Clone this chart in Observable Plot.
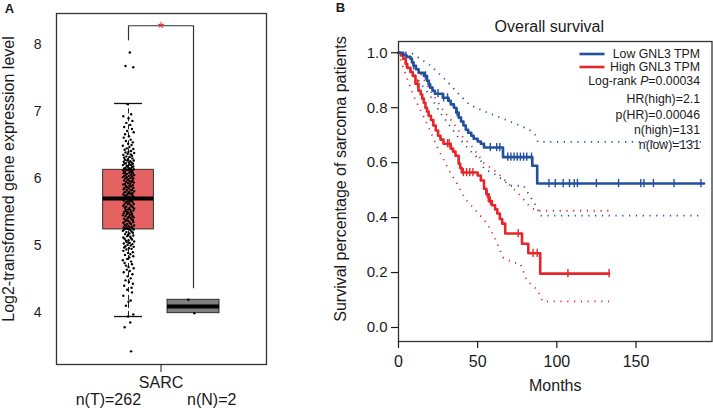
<!DOCTYPE html>
<html><head><meta charset="utf-8">
<script src="https://cdn.jsdelivr.net/npm/d3@7"></script>
<script src="https://cdn.jsdelivr.net/npm/@observablehq/plot@0.6"></script>
<style>
body{margin:0;background:#fff;}
#chart{position:relative;width:713px;height:408px;overflow:hidden;font-family:"Liberation Sans",Arial,sans-serif;background:#fff;}
#chart svg{position:absolute;top:0;}
</style></head><body><div id="chart"></div>
<script>
// ---------- Panel A data ----------
const groupsA = ["Tumor", "Normal"];
const boxLo  = [3.94, 3.99];
const boxQ1  = [5.24, 3.99];
const boxMed = [5.70, 4.09];
const boxQ3  = [6.13, 4.19];
const boxHi  = [7.12, 4.19];
const tumorVals = [
7.88,7.68,7.66,7.11,6.96,6.93,6.90,6.86,6.83,6.80,6.77,6.74,6.71,6.69,6.66,6.63,6.61,6.58,6.56,6.54,6.52,6.50,6.49,6.47,6.45,6.44,6.43,6.41,6.40,6.39,6.38,6.37,6.36,6.35,6.34,6.33,6.32,6.31,6.30,6.29,6.28,6.27,6.27,6.26,6.25,6.24,6.24,6.23,6.22,6.22,6.21,6.20,6.20,6.19,6.18,6.18,6.17,6.16,6.16,6.15,6.15,6.14,6.14,6.13,6.13,
6.12,6.12,6.11,6.10,6.10,6.09,6.08,6.08,6.07,6.06,6.06,6.05,6.04,6.04,6.03,6.02,6.02,6.01,6.00,6.00,5.99,5.98,5.97,5.97,5.96,5.95,5.95,5.94,5.93,5.92,5.92,5.91,5.90,5.89,5.89,5.88,5.87,5.86,5.86,5.85,5.84,5.83,5.83,5.82,5.81,5.80,5.80,5.79,5.78,5.78,5.77,5.76,5.76,5.75,5.74,5.74,5.73,5.72,5.72,5.71,5.71,5.70,5.70,5.70,5.69,5.69,
5.68,5.67,5.67,5.66,5.65,5.65,5.64,5.63,5.62,5.62,5.61,5.60,5.59,5.59,5.58,5.57,5.56,5.56,5.55,5.54,5.53,5.53,5.52,5.51,5.50,5.50,5.49,5.48,5.47,5.47,5.46,5.45,5.44,5.44,5.43,5.42,5.41,5.41,5.40,5.39,5.38,5.38,5.37,5.36,5.35,5.35,5.34,5.33,5.32,5.32,5.31,5.30,5.29,5.29,5.28,5.27,5.27,5.26,5.26,5.25,5.25,5.24,5.24,5.24,5.23,
5.22,5.21,5.20,5.19,5.18,5.17,5.16,5.15,5.14,5.13,5.12,5.11,5.10,5.09,5.08,5.07,5.06,5.05,5.04,5.03,5.02,5.01,5.00,4.99,4.98,4.97,4.96,4.95,4.94,4.92,4.90,4.89,4.87,4.86,4.84,4.82,4.80,4.78,4.76,4.74,4.72,4.70,4.68,4.66,4.64,4.62,4.60,4.57,4.54,4.51,4.48,4.46,4.43,4.40,4.37,4.34,4.30,4.25,4.18,4.16,4.10,3.97,3.94,3.85,3.78,3.42];
// horizontal jitter (units of 1/150 of a category step)
const tumorJitter = [
3,-7,11,-2,6,-12,0,9,-5,4,-10,8,-3,12,-8,1,-11,5,-6,10,-1,7,-13,2,-4,11,-9,6,0,-7,
13,-2,5,-12,8,-5,3,-10,9,-1,-8,12,-3,4,-11,7,1,-6,10,-9,2,-13,6,-4,11,-2,8,-7,0,5,
-10,3,12,-5,-1,9,-12,4,-8,7,2,-11,10,-3,6,-6,13,-9,1,8,-4,-13,5,11,-7,0,-2,9,-10,3,
7,-5,12,-1,-8,4,-12,10,2,-6,6,-3,11,-9,1,-11,8,-4,5,13,-7,0,-10,9,3,-2,-12,7,-5,10,
-8,2,12,-1,-6,4,-13,11,-3,6,-9,0,8,-11,3,-4,9,-7,1,12,-2,-10,5,7,-12,-5,10,2,-8,13,
-1,4,-6,11,-9,-3,6,0,-11,8,-4,3,-13,9,-7,1,12,-2,5,-10,7,-5,10,-1,-8,2,11,-12,4,-3,
6,-9,13,0,-6,8,-11,3,-4,9,-2,-7,12,1,-10,5,-13,7,-5,10,2,-8,-1,11,-3,4,-12,6,-9,8,
0,-6,13,-4,3,-11,9,-2,5,-7,12,-10,1,7,-5,-12,10,-1,4,-8,11,2,-3,-13,6,-9,8,-6,0,12,
-4,3,-11,9,-2,5,-7,1,10,-10,7,-3,8,-12,5,0,-6,11,-1,4,-9,6];
const normalVals = [4.19, 3.99];
const normalJitter = [-12, 2];
const bracketY = [8.07, 8.28, 4.37];
const yTicksA = [4, 5, 6, 7, 8];
const xCatLabel = "SARC";
const countLabels = ["n(T)=262", "n(N)=2"];
const yLabelA = "Log2-transformed gene expression level";

// ---------- Panel B data ----------
const lowTime = [0,3,5,7.6,8.5,9.5,11,12.7,16,18,19,20,21.5,23,28,31.6,33,35,36.5,38,39.5,41,42.5,44,46,47.5,50,52,54,66,84.5,87.6,193];
const lowSurv = [1,0.992,0.985,0.978,0.965,0.953,0.94,0.927,0.916,0.898,0.885,0.873,0.862,0.851,0.836,0.825,0.812,0.80,0.782,0.764,0.75,0.735,0.72,0.709,0.698,0.687,0.677,0.669,0.655,0.62,0.589,0.524,0.524];
const lowCensor = [9.5,17,19.5,25,28.5,31,37,58,62,64,69,71,73,75,77,79,81,84,95,99,104,108,111,113,125,139,153,155,161,174,191];
const highTime = [0,1.5,3,4.5,5.5,7.5,9,10.7,12.6,14,15,16,17,18,19,20.5,22,23.5,25,26.5,28.4,33,34.5,36,38,39,40,50,52,54,55.5,57,59,61,62.4,64,65.5,67.4,78,82,89.5,133];
const highSurv = [1,0.99,0.978,0.96,0.945,0.93,0.916,0.887,0.862,0.848,0.833,0.818,0.80,0.786,0.771,0.755,0.735,0.717,0.698,0.684,0.669,0.651,0.64,0.625,0.596,0.58,0.564,0.553,0.535,0.505,0.485,0.46,0.445,0.43,0.415,0.395,0.378,0.342,0.305,0.27,0.196,0.196];
const highCensor = [5,12,31,32,41,43,45,47,56,58,75.6,85,87.6,107,133];
const lowUpT  = [0,8,20,30,38,45,55,66,77,83.6,86.5,88,193];
const lowUpS  = [1,1,0.955,0.90,0.85,0.81,0.785,0.76,0.735,0.716,0.70,0.676,0.676];
const lowLoT  = [0,3,9.5,20,26.5,37,45,52,54,62.4,70.6,79,83.5,87.6,89.5,193];
const lowLoS  = [1,0.98,0.924,0.843,0.78,0.698,0.644,0.607,0.578,0.553,0.516,0.516,0.473,0.436,0.407,0.407];
const highUpT = [0,5.6,14,20,28.4,35,41,47,53.6,62.4,68.7,77,83.5,88,133];
const highUpS = [1,1,0.924,0.862,0.79,0.742,0.69,0.655,0.60,0.564,0.527,0.48,0.436,0.425,0.425];
const highLoT = [0,3,9.5,18,24.6,33,37,42,50,56,61,66,72.5,77,81,88,91,133];
const highLoS = [1,0.945,0.843,0.742,0.655,0.56,0.524,0.469,0.418,0.378,0.324,0.255,0.236,0.232,0.171,0.135,0.095,0.095];
const xTicksB = [0, 50, 100, 150];
const yTicksB = [0, 0.2, 0.4, 0.6, 0.8, 1.0];
const seriesNames = ["Low GNL3 TPM", "High GNL3 TPM"];
const statLines = ["Log-rank P=0.00034", "HR(high)=2.1", "p(HR)=0.00046", "n(high)=131", "n(low)=131"];

// ---------- helpers ----------
const FONT = '"Liberation Sans", Arial, sans-serif';
const BLUE = "#23509e", RED = "#e5272a";
const groupX = {Tumor: 1, Normal: 2};
const halfW = {Tumor: 0.39, Normal: 0.40};
const fillA = {Tumor: "#e46262", Normal: "#7f7f7f"};
const zip = (t, s) => t.map((v, i) => ({t: v, s: s[i]}));
const stepAt = (T, S, t) => { let k = 0; for (let i = 0; i < T.length; i++) if (T[i] <= t) k = i; return S[k]; };

const boxes = groupsA.map((g, i) => ({g, x: groupX[g], lo: boxLo[i], q1: boxQ1[i], med: boxMed[i], q3: boxQ3[i], hi: boxHi[i]}));
const pts = tumorVals.map((v, i) => ({x: groupX.Tumor + tumorJitter[i] / 150, v}))
  .concat(normalVals.map((v, i) => ({x: groupX.Normal + normalJitter[i] / 150, v})));
const bracket = [
  {x: groupX.Tumor, y: bracketY[0]}, {x: groupX.Tumor, y: bracketY[1]},
  {x: groupX.Normal, y: bracketY[1]}, {x: groupX.Normal, y: bracketY[2]}];
const mid = (groupX.Tumor + groupX.Normal) / 2;
const T = {textAnchor: "middle", lineAnchor: "middle"};

const plotA = Plot.plot({
  width: 290, height: 408,
  marginLeft: 56, marginRight: 24, marginTop: 13, marginBottom: 44,
  x: {domain: [-0.108, 3.123], axis: null},
  y: {domain: [3.224, 8.463], axis: null},
  style: {fontFamily: FONT, color: "#1a1a1a", background: "transparent"},
  marks: [
    Plot.rect(boxes, {x1: d => d.x - halfW[d.g], x2: d => d.x + halfW[d.g], y1: "q1", y2: "q3", fill: d => fillA[d.g], stroke: "#222", strokeWidth: 0.9}),
    Plot.ruleX(boxes.filter(d => d.hi > d.q3), {x: "x", y1: "q3", y2: "hi", stroke: "#222", strokeDasharray: "5,3"}),
    Plot.ruleX(boxes.filter(d => d.lo < d.q1), {x: "x", y1: "lo", y2: "q1", stroke: "#222", strokeDasharray: "5,3"}),
    Plot.ruleY(boxes.filter(d => d.hi > d.q3), {y: "hi", x1: d => d.x - 0.215, x2: d => d.x + 0.215, stroke: "#111", strokeWidth: 1.3}),
    Plot.ruleY(boxes.filter(d => d.lo < d.q1), {y: "lo", x1: d => d.x - 0.215, x2: d => d.x + 0.215, stroke: "#111", strokeWidth: 1.3}),
    Plot.ruleY(boxes, {y: "med", x1: d => d.x - halfW[d.g], x2: d => d.x + halfW[d.g], stroke: "#000", strokeWidth: 4}),
    Plot.dot(pts, {x: "x", y: "v", r: 1.2, fill: "#000", stroke: null}),
    Plot.line(bracket, {x: "x", y: "y", stroke: "#333", strokeWidth: 1.2}),
    Plot.text(["*"], {x: mid, y: bracketY[1], fill: "#e0302e", fontSize: 17, dy: 3}),
    Plot.frame({stroke: "#333", strokeWidth: 1.3}),
    Plot.axisY({ticks: yTicksA, tickFormat: d => String(d), tickSize: 0, tickPadding: 15, fontSize: 14, label: null}),
    Plot.axisX({ticks: [mid], tickFormat: () => xCatLabel, tickSize: 8, tickPadding: 4, fontSize: 16, label: null}),
    Plot.axisX({ticks: [0.69, 2.28], tickFormat: (d, i) => countLabels[i], tickSize: 0, tickPadding: 29, fontSize: 16, label: null}),
    Plot.text([yLabelA], {frameAnchor: "left", rotate: -90, dx: -48, dy: -10, fontSize: 16, ...T}),
    Plot.text(["A"], {frameAnchor: "top-left", dx: -47, dy: -4.5, fontSize: 13, fontWeight: "bold", ...T})
  ]
});

// ---------- Panel B ----------
const dotted = {strokeWidth: 1.8, strokeDasharray: "1.2,5.6", strokeLinecap: "butt"};
const censor = (T_, S, C) => C.map(t => ({t, s: stepAt(T_, S, t)}));
const stat = (s, dy) => Plot.text([s], {frameAnchor: "top-right", textAnchor: "end", lineAnchor: "middle", dx: -12, dy, fontSize: 12.3});
const plotB = Plot.plot({
  width: 423, height: 408,
  marginLeft: 108, marginRight: 1.5, marginTop: 41, marginBottom: 67,
  x: {domain: [0, 198], axis: null},
  y: {domain: [-0.051, 1.041], axis: null},
  style: {fontFamily: FONT, color: "#1a1a1a", background: "transparent"},
  marks: [
    Plot.line(zip(lowUpT, lowUpS), {x: "t", y: "s", stroke: BLUE, ...dotted}),
    Plot.line(zip(lowLoT, lowLoS), {x: "t", y: "s", stroke: BLUE, ...dotted}),
    Plot.line(zip(highUpT, highUpS), {x: "t", y: "s", stroke: RED, ...dotted}),
    Plot.line(zip(highLoT, highLoS), {x: "t", y: "s", stroke: RED, ...dotted}),
    Plot.line(zip(highTime, highSurv), {x: "t", y: "s", stroke: RED, strokeWidth: 2.6, curve: "step-after"}),
    Plot.line(zip(lowTime, lowSurv), {x: "t", y: "s", stroke: BLUE, strokeWidth: 2.6, curve: "step-after"}),
    Plot.ruleX(censor(highTime, highSurv, highCensor), {x: "t", y1: d => d.s - 0.015, y2: d => d.s + 0.015, stroke: RED, strokeWidth: 1.4}),
    Plot.ruleX(censor(lowTime, lowSurv, lowCensor), {x: "t", y1: d => d.s - 0.015, y2: d => d.s + 0.015, stroke: BLUE, strokeWidth: 1.4}),
    Plot.frame({stroke: "#333", strokeWidth: 1.3}),
    Plot.axisY({ticks: yTicksB, tickFormat: d3.format(".1f"), tickSize: 7, tickPadding: 4, fontSize: 15, label: null, strokeWidth: 1.2}),
    Plot.axisX({ticks: xTicksB, tickSize: 7, tickPadding: 7, fontSize: 16, label: null, strokeWidth: 1.2}),
    Plot.text(["Months"], {frameAnchor: "bottom", dy: 44, fontSize: 16, ...T}),
    Plot.text(["Survival percentage of sarcoma patients"], {frameAnchor: "left", rotate: -90, dx: -58, dy: -12.5, fontSize: 16, ...T}),
    Plot.text(["Overall survival"], {frameAnchor: "top", dx: -6, dy: -15, fontSize: 16, ...T}),
    Plot.text(["B"], {frameAnchor: "top-left", dx: -58, dy: -33.5, fontSize: 13, fontWeight: "bold", ...T}),
    stat(seriesNames[0], 13),
    stat(seriesNames[1], 26),
    ...statLines.map((s, i) => stat(s, [40, 57.3, 73.3, 88.3, 104][i]))
  ]
});

const host = document.getElementById("chart");
plotA.style.left = "0px";
plotB.style.left = "290px";
host.appendChild(plotA);
host.appendChild(plotB);

// legend swatches and italic P
const svgB = d3.select(plotB);
const fr = 423 - 1.5;
[[BLUE, 54], [RED, 67]].forEach(([c, y]) => {
  svgB.append("line").attr("x1", fr - 132).attr("x2", fr - 107).attr("y1", y).attr("y2", y)
    .attr("stroke", c).attr("stroke-width", 2.6);
});
svgB.selectAll("text").each(function() {
  if (this.textContent === statLines[0]) {
    const el = d3.select(this);
    el.text("");
    el.append("tspan").text("Log-rank ");
    el.append("tspan").attr("font-style", "italic").text("P");
    el.append("tspan").text("=0.00034");
  }
});
</script></body></html>
